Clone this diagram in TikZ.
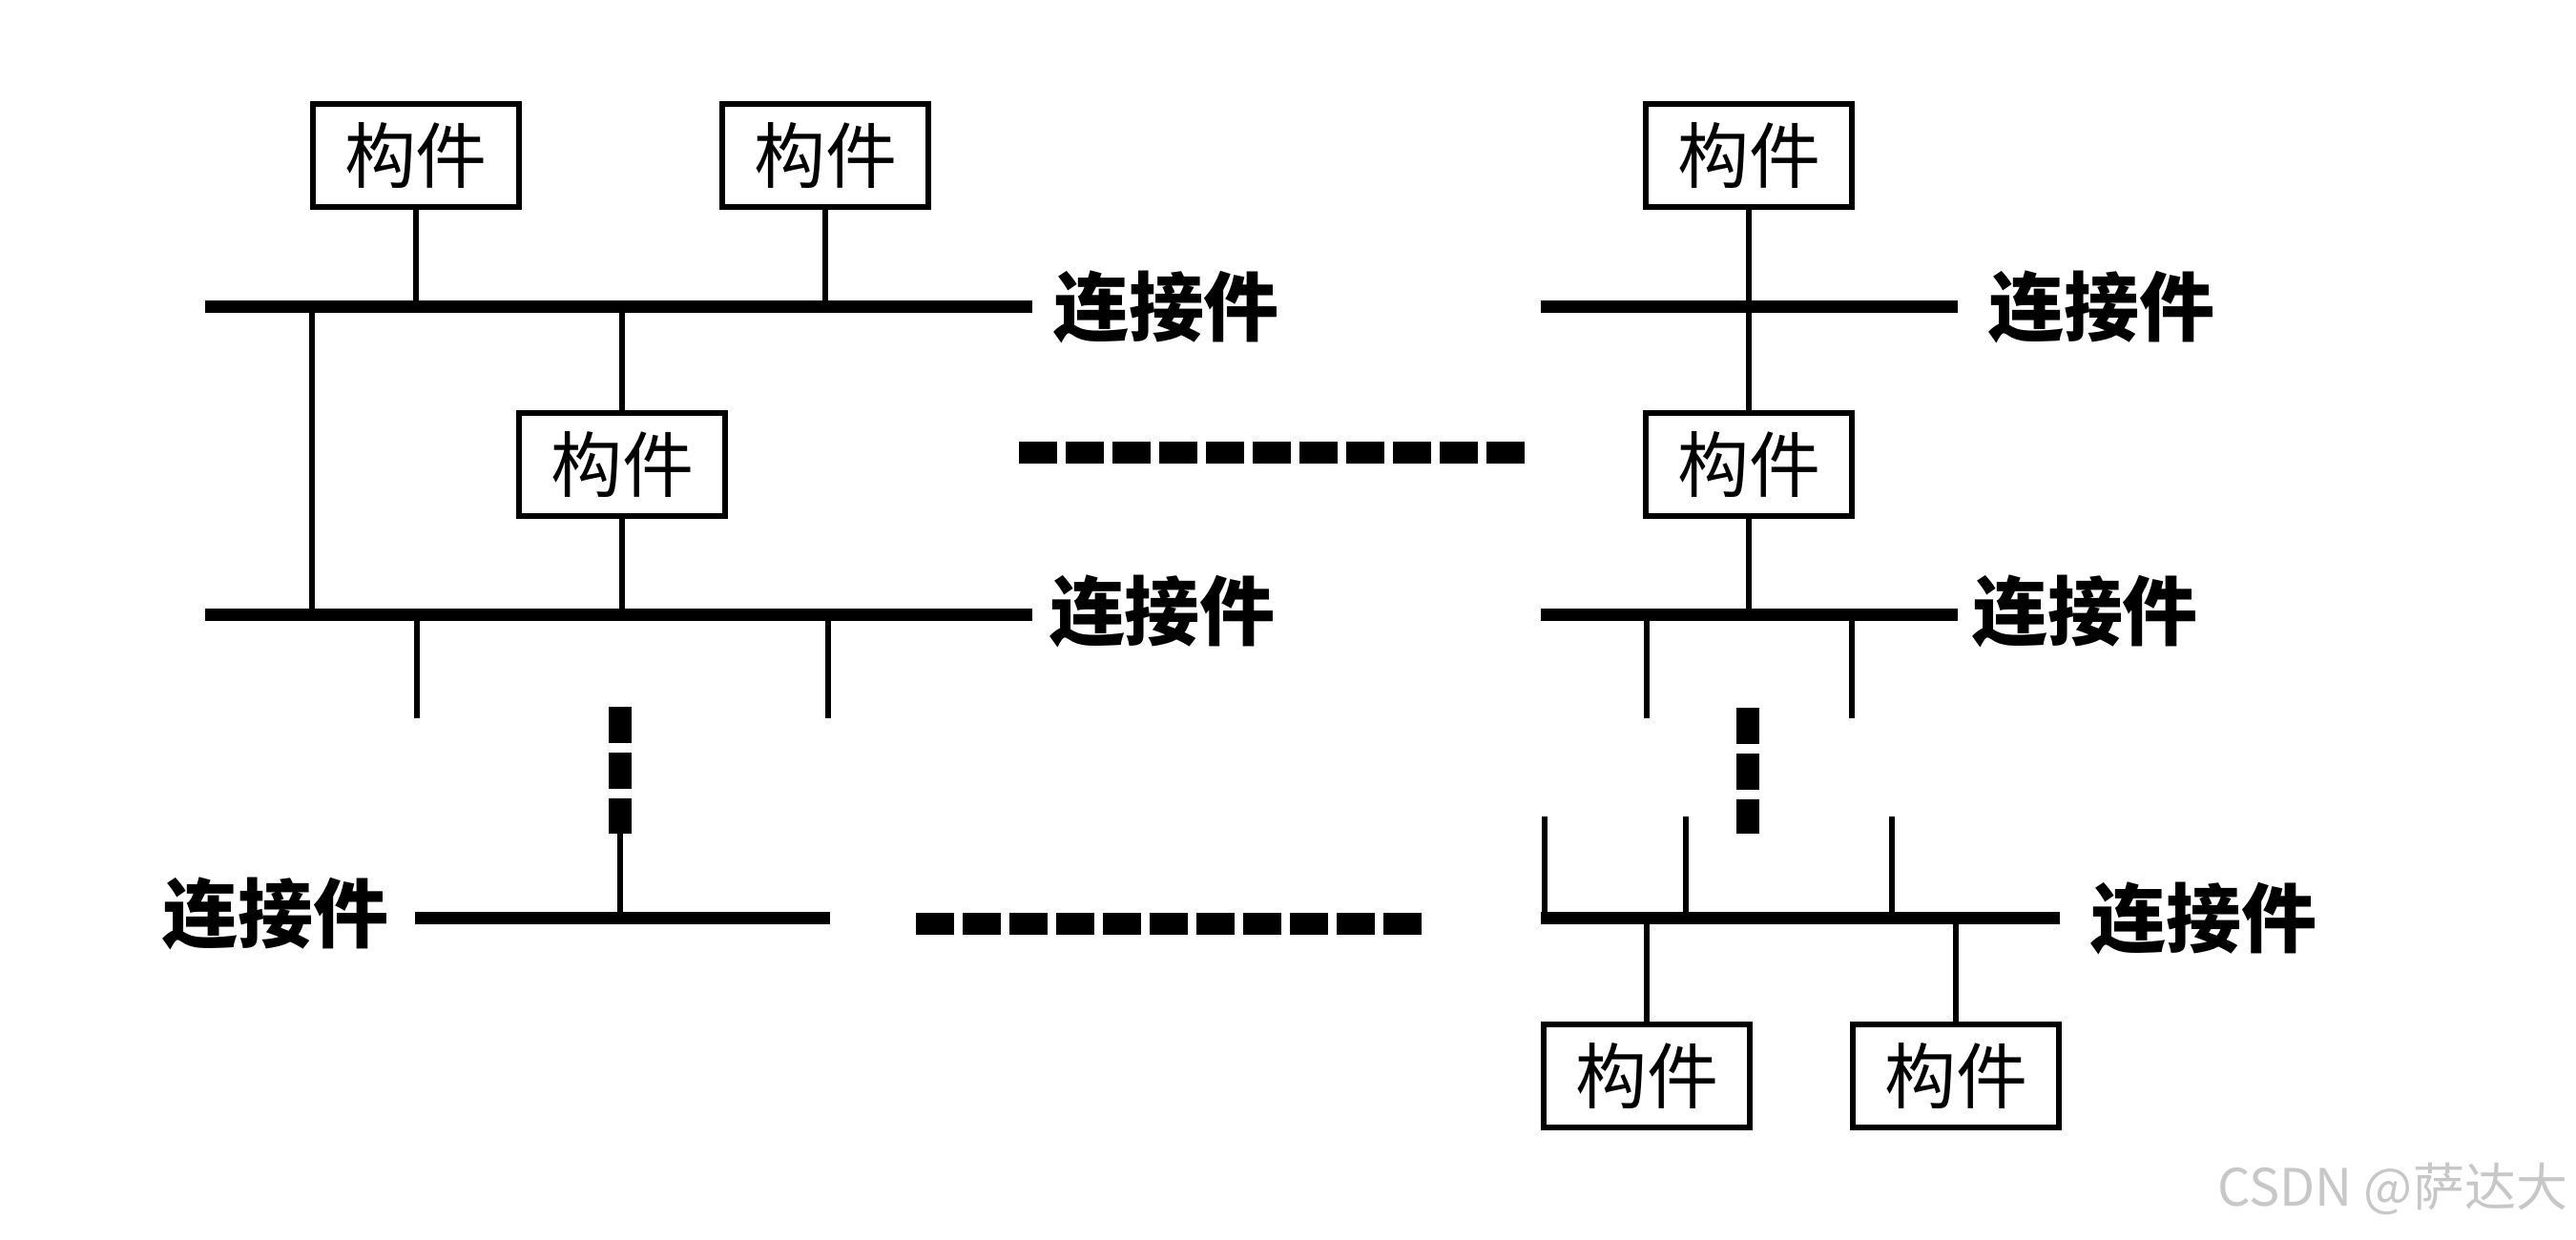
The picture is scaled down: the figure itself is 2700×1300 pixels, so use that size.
\documentclass[tikz,border=0pt]{standalone}
\usepackage{fontspec}
\newfontfamily\cjk{Noto Sans CJK SC}
\begin{document}
\begin{tikzpicture}[x=0.1pt,y=-0.1pt,
  comp/.style={draw, line width=0.55pt, minimum width=21.6pt, minimum height=10.8pt, inner sep=0pt, font=\cjk\fontsize{7.5pt}{7.5pt}\selectfont},
  lbl/.style={font=\cjk\bfseries\fontsize{7.9pt}{7.9pt}\selectfont, inner sep=0pt},
  bus/.style={line width=1.3pt},
  wire/.style={line width=0.55pt},
  hdots/.style={line width=2.3pt, dash pattern=on 4pt off 0.9pt},
  vdots/.style={line width=2.4pt, dash pattern=on 3.8pt off 1pt}]
\fill[white] (0,0) rectangle (2700,1300);
\useasboundingbox (0,0) rectangle (2700,1300);

% buses
\coordinate (A1) at (215,322); \coordinate (A2) at (1082,322);
\coordinate (B1) at (215,645); \coordinate (B2) at (1082,645);
\coordinate (C1) at (435,963); \coordinate (C2) at (870,963);
\coordinate (D1) at (1615,322); \coordinate (D2) at (2052,322);
\coordinate (E1) at (1615,645); \coordinate (E2) at (2052,645);
\coordinate (F1) at (1615,963); \coordinate (F2) at (2159,963);

% components
\node[comp] (b1) at (436,163) {构件};
\node[comp] (b2) at (865,163) {构件};
\node[comp] (b3) at (652,487) {构件};
\node[comp] (b4) at (1833,163) {构件};
\node[comp] (b5) at (1833,487) {构件};
\node[comp] (b6) at (1726,1128) {构件};
\node[comp] (b7) at (2050,1128) {构件};

% connector labels
\node[lbl, anchor=west] (LA) at (1102,322) {连接件};
\node[lbl, anchor=west] (LB) at (1098,641) {连接件};
\node[lbl, anchor=east] (LC) at (409,958) {连接件};
\node[lbl, anchor=west] (LD) at (2082,322) {连接件};
\node[lbl, anchor=west] (LE) at (2065,641) {连接件};
\node[lbl, anchor=west] (LF) at (2189,963) {连接件};

% bus lines
\draw[bus] (A1) -- (A2);
\draw[bus] (B1) -- (B2);
\draw[bus] (C1) -- (C2);
\draw[bus] (D1) -- (D2);
\draw[bus] (E1) -- (E2);
\draw[bus] (F1) -- (F2);

% left group wires
\coordinate (v1) at (327,322);
\draw[wire] (b1.south) -- (b1.south |- A1);
\draw[wire] (b2.south) -- (b2.south |- A1);
\draw[wire] (v1) -- (v1 |- B1);
\draw[wire] (b3.north) -- (b3.north |- A1);
\draw[wire] (b3.south) -- (b3.south |- B1);
\coordinate (s1) at (437,753); \coordinate (s2) at (868,753);
\draw[wire] (s1 |- B1) -- (s1);
\draw[wire] (s2 |- B1) -- (s2);
\coordinate (d1a) at (650,741); \coordinate (d1b) at (650,874);
\draw[vdots] (d1a) -- (d1b);
\draw[wire] (d1b) -- (d1b |- C1);

% horizontal ellipses
\coordinate (h1a) at (1068,475); \coordinate (h1b) at (1598,475);
\draw[hdots] (h1a) -- (h1b);
\coordinate (h2a) at (960,969); \coordinate (h2b) at (1490,969);
\draw[hdots] (h2a) -- (h2b);

% right group wires
\draw[wire] (b4.south) -- (b5.north);
\draw[wire] (b5.south) -- (b5.south |- E1);
\coordinate (s3) at (1726,753); \coordinate (s4) at (1941,753);
\draw[wire] (s3 |- E1) -- (s3);
\draw[wire] (s4 |- E1) -- (s4);
\coordinate (d2a) at (1832,742); \coordinate (d2b) at (1832,874);
\draw[vdots] (d2a) -- (d2b);
\coordinate (t1) at (1619,856); \coordinate (t2) at (1767,856); \coordinate (t3) at (1983,856);
\draw[wire] (t1) -- (t1 |- F1);
\draw[wire] (t2) -- (t2 |- F1);
\draw[wire] (t3) -- (t3 |- F1);
\draw[wire] (b6.north) -- (b6.north |- F1);
\draw[wire] (b7.north) -- (b7.north |- F1);

% watermark
\node[font=\cjk\fontsize{5.4pt}{5.4pt}\selectfont, text=black!22, anchor=south east, inner sep=0pt] (wm) at (2693,1276) {CSDN @萨达大};
\end{tikzpicture}
\end{document}
